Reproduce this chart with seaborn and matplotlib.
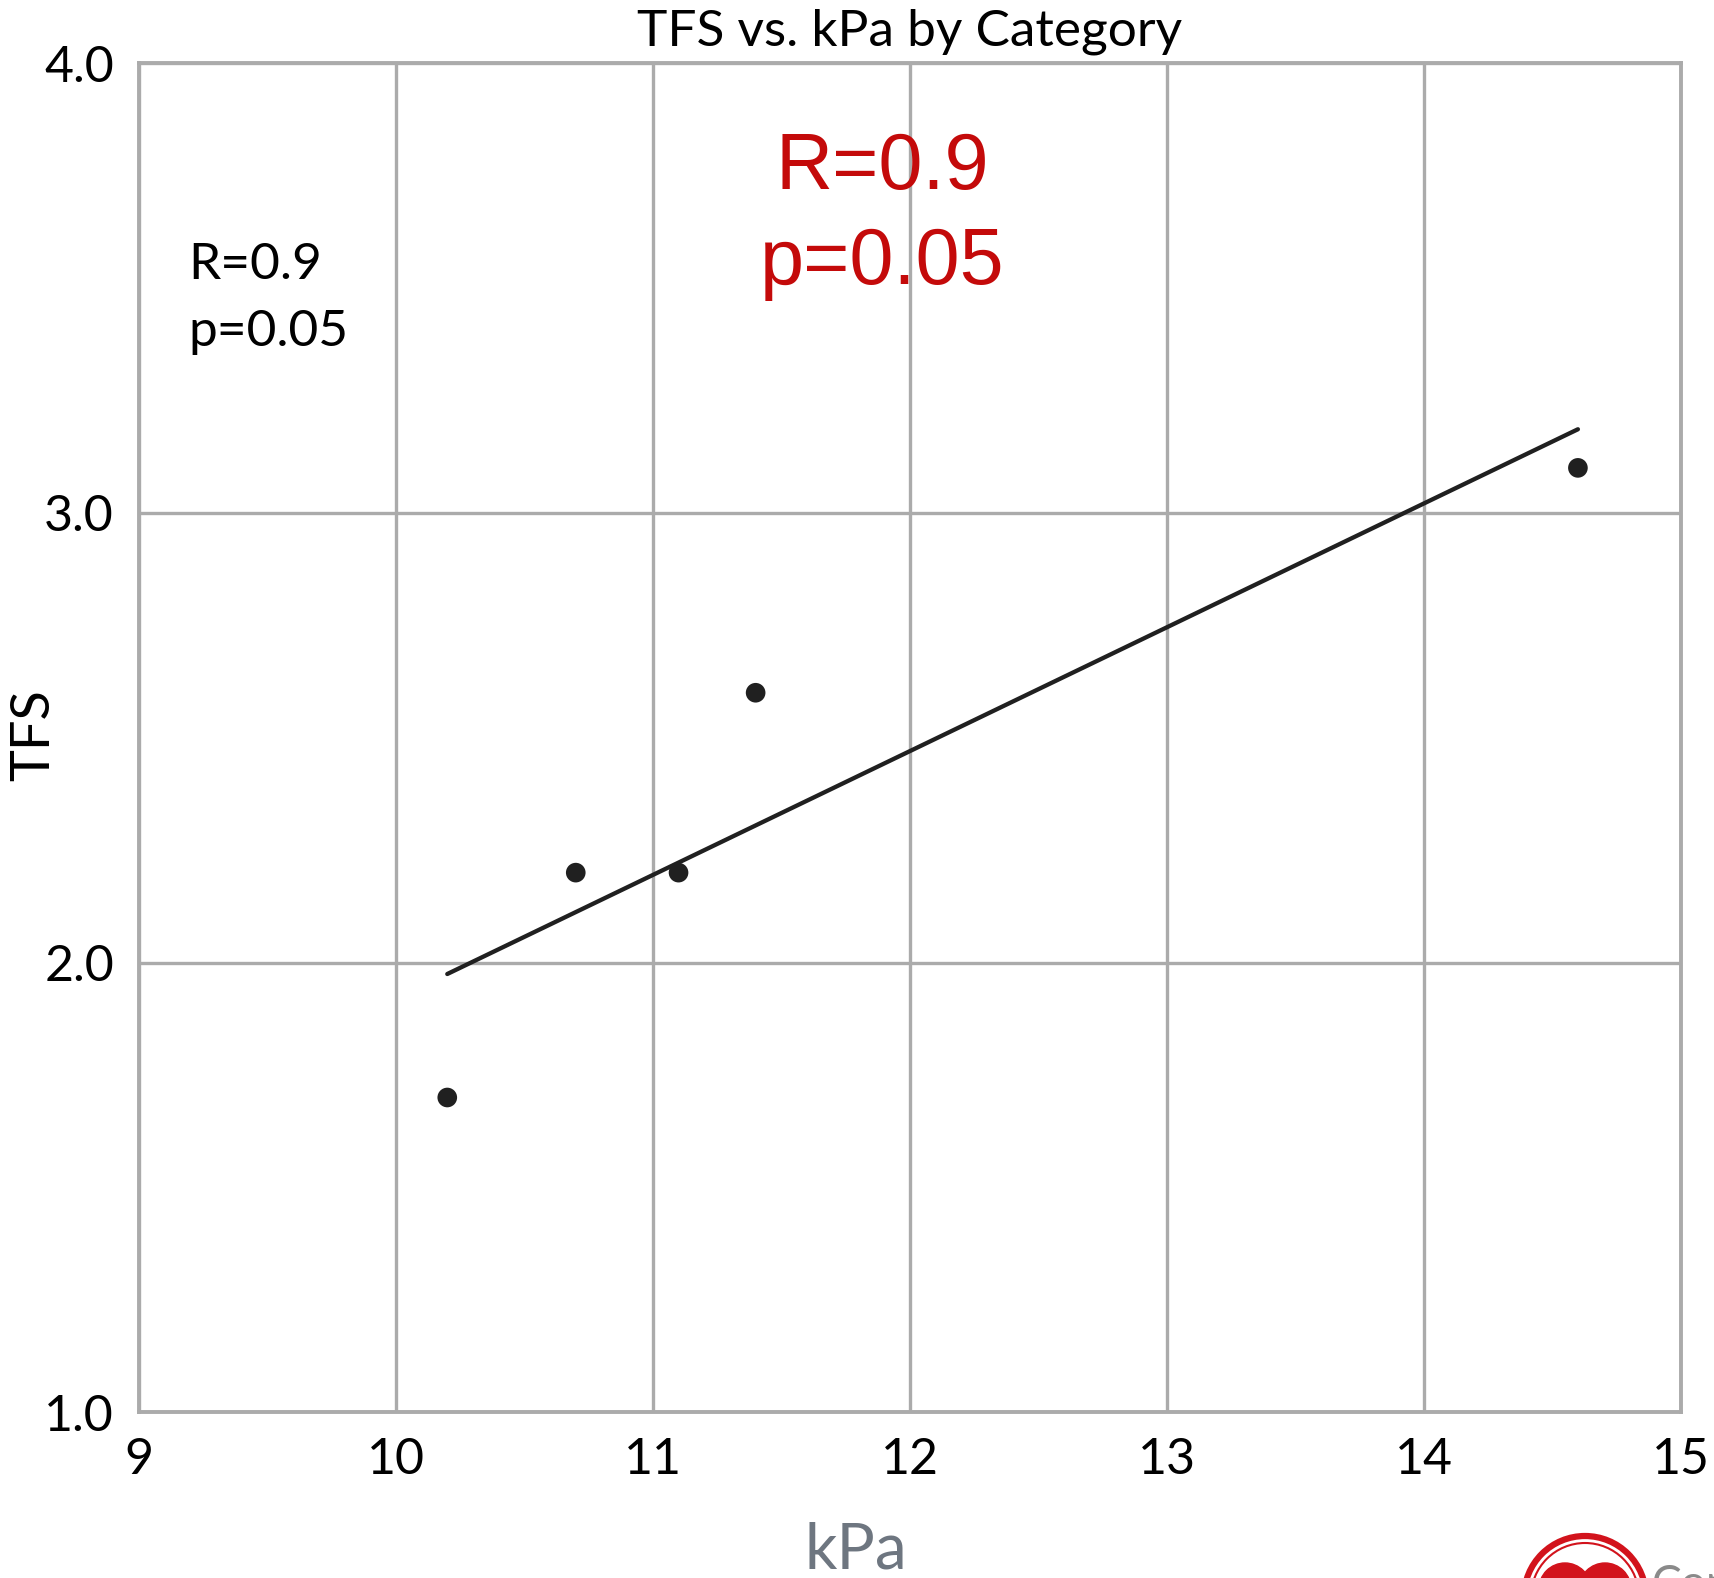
import matplotlib
matplotlib.use("Agg")
import matplotlib.pyplot as plt
from matplotlib import font_manager
from matplotlib.patches import Circle
from matplotlib.transforms import IdentityTransform
import pandas as pd
import seaborn as sns

# Measurements
kpa = [10.2, 10.7, 11.1, 11.4, 14.6]
tfs = [1.7, 2.2, 2.2, 2.6, 3.1]
x_ticks = [9, 10, 11, 12, 13, 14, 15]
y_ticks = [1.0, 2.0, 3.0, 4.0]
stats_lines = ["R=0.9", "p=0.05"]

df = pd.DataFrame({"kPa": kpa, "TFS": tfs})


def pick_font(candidates):
    for name in candidates:
        try:
            font_manager.findfont(name, fallback_to_default=False)
            return name
        except Exception:
            continue
    return "DejaVu Sans"


sns.set_theme(style="white")
body_font = pick_font(["Liberation Sans Narrow", "Lato", "Open Sans"])
red_font = pick_font(["Liberation Sans", "Arial"])
plt.rcParams["font.family"] = [body_font, "DejaVu Sans"]

GRID = "#ababab"
INK = "#202020"

fig = plt.figure(figsize=(17.15, 15.78), dpi=100)
ax = fig.add_axes([0.081, 0.105, 0.899, 0.855])

sns.regplot(
    data=df, x="kPa", y="TFS", ax=ax, ci=None,
    scatter_kws=dict(s=200, color=INK, alpha=1, edgecolor="none", zorder=4),
    line_kws=dict(color=INK, linewidth=3.1, zorder=3),
)

ax.set_xlim(x_ticks[0], x_ticks[-1])
ax.set_ylim(y_ticks[0], y_ticks[-1])
ax.set_xticks(x_ticks)
ax.set_yticks(y_ticks)
ax.set_xticklabels([str(t) for t in x_ticks])
ax.set_yticklabels([f"{t:.1f}" for t in y_ticks])
ax.tick_params(axis="both", length=0, labelsize=36, colors="black")
ax.tick_params(axis="x", pad=18)
ax.tick_params(axis="y", pad=18)

ax.grid(True, color=GRID, linewidth=2.4)
ax.set_axisbelow(True)
for sp in ax.spines.values():
    sp.set_visible(True)
    sp.set_color(GRID)
    sp.set_linewidth(2.8)

ax.set_xlabel("")
ax.set_ylabel("")
ax.set_title("TFS vs. kPa by Category", fontsize=37, pad=13, color="black")

# Axis labels
fig.text(0.0195, 0.534, "TFS", rotation=90, ha="center", va="center",
         fontsize=39, color="black")
fig.text(0.499, 0.006, "kPa", ha="center", va="baseline",
         fontsize=46, color="#6e7680")

# Correlation annotations
ax.text(0.032, 0.840, stats_lines[0], transform=ax.transAxes, ha="left",
        va="baseline", fontsize=37, color="black")
ax.text(0.032, 0.790, stats_lines[1], transform=ax.transAxes, ha="left",
        va="baseline", fontsize=37, color="black")
ax.text(0.482, 0.907, stats_lines[0], transform=ax.transAxes, ha="center",
        va="baseline", fontsize=57, color="#c40a0a", family=red_font)
ax.text(0.482, 0.836, stats_lines[1], transform=ax.transAxes, ha="center",
        va="baseline", fontsize=57, color="#c40a0a", family=red_font)

# Emblem in the lower-right corner (pixel coordinates)
H = 1578
ex, ey, r = 1585, H - 1597, 61
fig.patches.append(Circle((ex, ey), r, fill=False, edgecolor="#d2131c",
                          linewidth=4.5, transform=IdentityTransform()))
fig.patches.append(Circle((ex, ey), r - 7, fill=False, edgecolor="#d2131c",
                          linewidth=1.5, transform=IdentityTransform()))
for dx in (-20, 20):
    fig.patches.append(Circle((ex + dx, ey + 8), 26, color="#d2131c",
                              transform=IdentityTransform()))
fig.text(1652 / 1715, -0.012, "Con", ha="left", va="baseline", fontsize=32,
         color="#8a8a8a")

fig.savefig("out.png", dpi=100)
